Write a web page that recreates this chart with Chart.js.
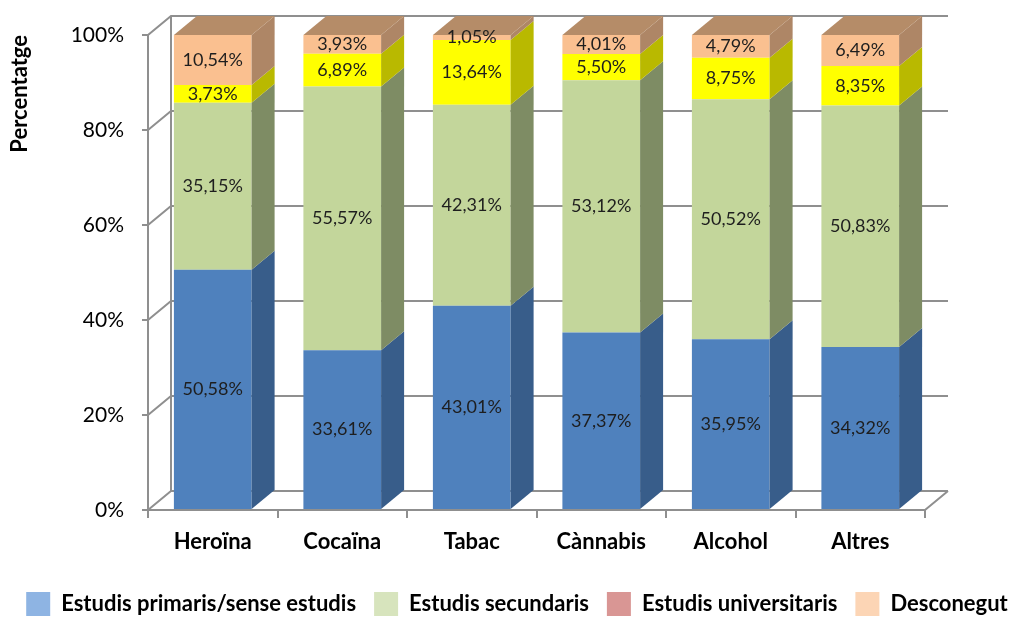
<!DOCTYPE html>
<html>
<head>
<meta charset="utf-8">
<script src="https://cdn.jsdelivr.net/npm/chart.js@4.4.0/dist/chart.umd.min.js"></script>
<style>
html, body { margin: 0; padding: 0; background: #fff; }
#wrap { width: 1034px; height: 617px; }
</style>
</head>
<body>
<div id="wrap"><canvas id="chart"></canvas></div>
<script>
// chart data
const categories = ['Heroïna', 'Cocaïna', 'Tabac', 'Cànnabis', 'Alcohol', 'Altres'];
const seriesNames = ['Estudis primaris/sense estudis', 'Estudis secundaris', 'Estudis universitaris', 'Desconegut'];
const primaris = [50.58, 33.61, 43.01, 37.37, 35.95, 34.32];
const secundaris = [35.15, 55.57, 42.31, 53.12, 50.52, 50.83];
const universitaris = [3.73, 6.89, 13.64, 5.50, 8.75, 8.35];
const desconegut = [10.54, 3.93, 1.05, 4.01, 4.79, 6.49];
const yTicks = [0, 20, 40, 60, 80, 100];

// colours: front face, side face, top face, legend swatch
const frontColors = ['#4F81BD', '#C3D69B', '#FFFF00', '#FAC090'];
const sideColors = ['#385D8A', '#7E8C64', '#B9B900', '#AE8666'];
const topColors = ['#385D8A', '#7E8C64', '#B9B900', '#B58C68'];
const legendColors = ['#8EB4E3', '#D7E4BD', '#D99694', '#FCD5B5'];

const FONT = 'Lato, "Liberation Sans", sans-serif';
const DX = 23, DY = -19; // depth of the fake 3D

const depthPlugin = {
    id: 'depth',
    beforeDatasetsDraw(chart) {
        const ctx = chart.ctx;
        const a = chart.chartArea;
        const y = chart.scales.y;
        ctx.save();
        ctx.strokeStyle = '#8f8f8f';
        ctx.lineWidth = 2;
        ctx.beginPath();
        yTicks.forEach(v => {
            const py = y.getPixelForValue(v);
            ctx.moveTo(a.left, py);
            ctx.lineTo(a.left + DX, py + DY);
            ctx.lineTo(a.right + DX, py + DY);
        });
        ctx.moveTo(a.left + DX, a.top + DY);
        ctx.lineTo(a.left + DX, a.bottom + DY);
        ctx.moveTo(a.right, a.bottom);
        ctx.lineTo(a.right + DX, a.bottom + DY);
        ctx.stroke();
        ctx.restore();
    },
    afterDatasetsDraw(chart) {
        const ctx = chart.ctx;
        const metas = chart.getSortedVisibleDatasetMetas();
        ctx.save();
        metas.forEach((meta, k) => {
            const i = meta.index;
            meta.data.forEach(bar => {
                const p = bar.getProps(['x', 'y', 'base', 'width'], true);
                const l = p.x - p.width / 2, r = p.x + p.width / 2;
                ctx.fillStyle = sideColors[i];
                ctx.beginPath();
                ctx.moveTo(r, p.y);
                ctx.lineTo(r + DX, p.y + DY);
                ctx.lineTo(r + DX, p.base + DY);
                ctx.lineTo(r, p.base);
                ctx.closePath();
                ctx.fill();
                if (k === metas.length - 1) {
                    ctx.fillStyle = topColors[i];
                    ctx.beginPath();
                    ctx.moveTo(l, p.y);
                    ctx.lineTo(l + DX, p.y + DY);
                    ctx.lineTo(r + DX, p.y + DY);
                    ctx.lineTo(r, p.y);
                    ctx.closePath();
                    ctx.fill();
                }
            });
        });
        // value labels
        ctx.fillStyle = '#1e1e1e';
        ctx.font = '18px ' + FONT;
        ctx.textAlign = 'center';
        ctx.textBaseline = 'middle';
        metas.forEach(meta => {
            const values = chart.data.datasets[meta.index].data;
            meta.data.forEach((bar, j) => {
                const p = bar.getProps(['x', 'y', 'base'], true);
                const txt = values[j].toFixed(2).replace('.', ',') + '%';
                ctx.fillText(txt, p.x, (p.y + p.base) / 2);
            });
        });
        ctx.restore();
    }
};

const seriesData = [primaris, secundaris, universitaris, desconegut];

new Chart(document.getElementById('chart'), {
    type: 'bar',
    data: {
        labels: categories,
        datasets: seriesData.map((d, i) => ({
            label: seriesNames[i],
            data: d,
            backgroundColor: frontColors[i],
            borderWidth: 0,
            barPercentage: 0.6,
            categoryPercentage: 1
        }))
    },
    options: {
        responsive: true,
        maintainAspectRatio: false,
        animation: false,
        layout: { padding: { top: 35, left: 0, right: 0, bottom: -9 } },
        plugins: {
            legend: {
                position: 'bottom',
                labels: {
                    boxWidth: 24,
                    boxHeight: 24,
                    padding: 18,
                    color: '#000',
                    font: { family: FONT, size: 22, weight: 'bold' },
                    generateLabels: chart => chart.data.datasets.map((ds, i) => ({
                        text: ds.label,
                        fillStyle: legendColors[i],
                        strokeStyle: legendColors[i],
                        lineWidth: 0,
                        hidden: false,
                        datasetIndex: i
                    }))
                }
            },
            tooltip: { enabled: false }
        },
        scales: {
            x: {
                stacked: true,
                grid: { drawOnChartArea: false, offset: true, tickLength: 8, color: '#8f8f8f', lineWidth: 2 },
                border: { display: true, color: '#8f8f8f', width: 2 },
                ticks: { color: '#000', padding: 11, font: { family: FONT, size: 22, weight: 'bold' } },
                afterFit: s => { s.height = 64; }
            },
            y: {
                stacked: true,
                min: 0,
                max: 100,
                ticks: {
                    stepSize: 20,
                    color: '#000',
                    padding: 18,
                    font: { family: FONT, size: 21 },
                    callback: v => v + '%'
                },
                grid: { drawOnChartArea: false, tickLength: 6, color: '#8f8f8f', lineWidth: 2 },
                border: { display: true, color: '#8f8f8f', width: 2 },
                title: {
                    display: true,
                    text: 'Percentatge',
                    align: 'end',
                    color: '#000',
                    padding: { top: 7, bottom: 0 },
                    font: { family: FONT, size: 22, weight: 'bold' }
                },
                afterFit: s => { s.width = 148; }
            },
            yr: {
                position: 'right',
                display: true,
                grid: { display: false },
                border: { display: false },
                ticks: { display: false },
                afterFit: s => { s.width = 109; }
            }
        }
    },
    plugins: [depthPlugin]
});
</script>
</body>
</html>
